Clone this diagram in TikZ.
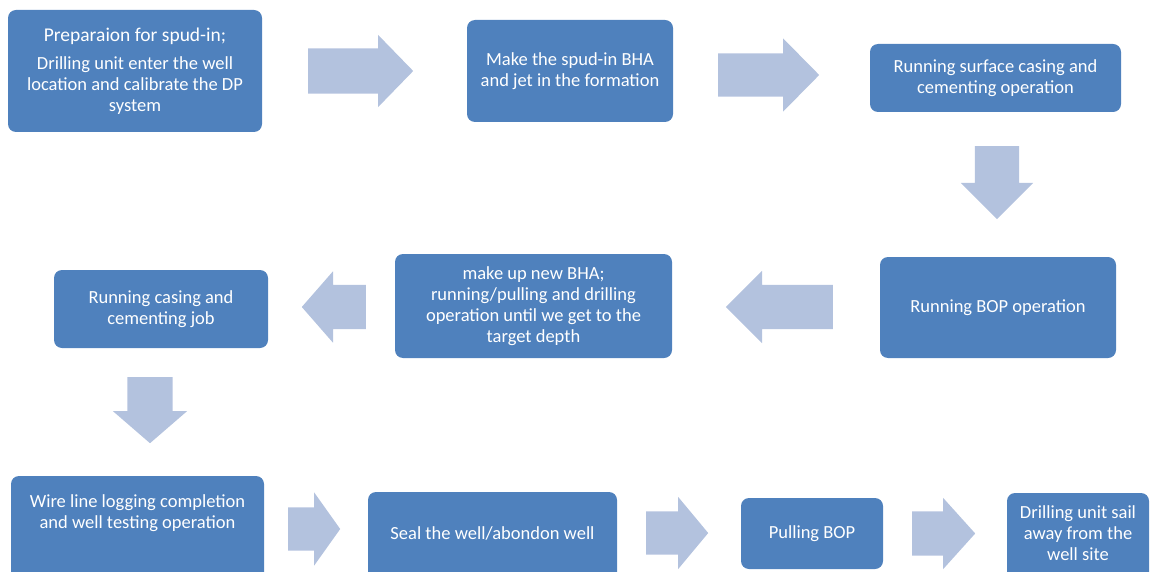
\documentclass[tikz,border=0pt]{standalone}
\usepackage{fontspec}
\setmainfont{Carlito}
\usetikzlibrary{shapes.arrows}
\definecolor{boxblue}{HTML}{4F81BD}
\definecolor{arrowblue}{HTML}{B3C2DE}
\tikzset{
  stepbox/.style={fill=boxblue, rounded corners=8pt, inner sep=0pt, text=white,
    font=\fontsize{18.5}{21}\selectfont, align=center},
  boxtext/.style={inner sep=0pt, text=white, font=\fontsize{18.5}{21}\selectfont, align=center},
  barrow/.style={single arrow, fill=arrowblue, draw=none, inner xsep=0pt, anchor=tail}
}
\begin{document}
\begin{tikzpicture}[x=1pt,y=-1pt]
\useasboundingbox (0,0) rectangle (1150,572);
\clip (0,0) rectangle (1150,572);
% boxes
\node[stepbox, minimum width=254pt, minimum height=122pt] (a) at (135,71)
  {{\fontsize{19.5}{21}\selectfont Preparaion for spud-in;}\\[7pt] Drilling unit enter the well\\ location and calibrate the DP\\ system};
\node[stepbox, minimum width=206pt, minimum height=102pt] (b) at (570,71)
  {Make the spud-in BHA\\ and jet in the formation};
\node[stepbox, minimum width=251pt, minimum height=68pt] (c) at (995.5,78)
  {Running surface casing and\\ cementing operation};
\node[stepbox, minimum width=236pt, minimum height=101pt] (d) at (998,307.5)
  {Running BOP operation};
\node[stepbox, minimum width=277pt, minimum height=104pt] (e) at (533.5,306)
  {make up new BHA;\\ running/pulling and drilling\\ operation until we get to the\\ target depth};
\node[stepbox, minimum width=214pt, minimum height=78pt] (f) at (161,309)
  {Running casing and\\ cementing job};
\node[stepbox, minimum width=253pt, minimum height=114pt] (g) at (137.5,533) {};
\node[boxtext] (gt) at (137.5,513.5) {Wire line logging completion\\ and well testing operation};
\node[stepbox, minimum width=249pt, minimum height=98pt] (h) at (492.5,541) {};
\node[boxtext] (ht) at (492.5,533) {Seal the well/abondon well};
\node[stepbox, minimum width=142pt, minimum height=71pt] (i) at (812,533.5) {Pulling BOP};
\node[stepbox, minimum width=142pt, minimum height=97pt] (j) at (1078,541.5) {};
\node[boxtext] (jt) at (1078,533) {Drilling unit sail\\ away from the\\ well site};
% block arrows
\node[barrow, minimum height=105pt, inner ysep=22.5pt, single arrow head extend=13.5pt, single arrow tip angle=91.6] (r1) at (308,71) {};
\node[barrow, minimum height=101pt, inner ysep=21.5pt, single arrow head extend=15pt, single arrow tip angle=90.8] (r2) at (718,75) {};
\node[barrow, minimum height=73pt, inner ysep=22pt, single arrow head extend=14pt, single arrow tip angle=90, rotate=-90] (r3) at (997,146) {};
\node[barrow, minimum height=107pt, inner ysep=22pt, single arrow head extend=14pt, single arrow tip angle=90, rotate=180] (r4) at (833,307) {};
\node[barrow, minimum height=64pt, inner ysep=22pt, single arrow head extend=13.5pt, single arrow tip angle=97.7, rotate=180] (r5) at (366,307) {};
\node[barrow, minimum height=66pt, inner ysep=22.5pt, single arrow head extend=14.5pt, single arrow tip angle=98.3, rotate=-90] (r6) at (150,377) {};
\node[barrow, minimum height=52pt, inner ysep=21.5pt, single arrow head extend=15pt, single arrow tip angle=109.1] (r7) at (288,529) {};
\node[barrow, minimum height=62pt, inner ysep=21.5pt, single arrow head extend=14.5pt, single arrow tip angle=100.4] (r8) at (646,533) {};
\node[barrow, minimum height=63pt, inner ysep=22pt, single arrow head extend=13.5pt, single arrow tip angle=96] (r9) at (912,533.5) {};
\end{tikzpicture}
\end{document}
